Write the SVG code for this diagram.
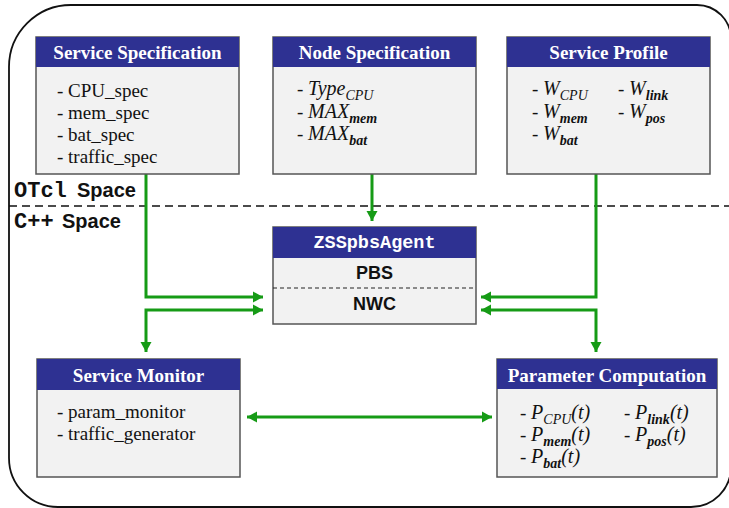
<svg xmlns="http://www.w3.org/2000/svg" width="729" height="508" viewBox="0 0 729 508">
<style>
.hdr{fill:#2e3192;}
.body{fill:#f2f2f2;stroke:#555;stroke-width:1.5;}
.ttl{font-family:"Liberation Serif",serif;font-weight:bold;font-size:19px;fill:#fff;text-anchor:middle;}
.it{font-family:"Liberation Serif",serif;font-size:19px;fill:#111;}
.i{font-style:italic;font-size:20px;}
.sub{font-style:italic;font-size:14px;}
.sb{font-style:italic;font-weight:bold;font-size:14px;}
.conn{fill:none;stroke:#169b16;stroke-width:3;}
</style>
<defs>
<marker id="ah" markerUnits="userSpaceOnUse" markerWidth="12" markerHeight="12" refX="10" refY="5.5" orient="auto-start-reverse" viewBox="0 0 12 11">
<path d="M0,0 L10,5.5 L0,11 z" fill="#169b16"/>
</marker>
</defs>
<rect width="729" height="508" fill="#fff"/>
<path d="M9,67 A62,62 0 0 1 71,5 L697,5 A34,34 0 0 1 731,39 L731,467 A40,40 0 0 1 691,507 L58,507 A49,49 0 0 1 9,458 Z" fill="none" stroke="#111" stroke-width="1.8"/>
<line x1="9" y1="206" x2="729" y2="206" stroke="#111" stroke-width="1.5" stroke-dasharray="8,5"/>
<text x="14" y="197" font-family="'Liberation Mono', monospace" font-size="22" font-weight="bold" fill="#111">OTcl</text>
<text x="77" y="197" font-family="'Liberation Sans', Arial, sans-serif" font-size="20" font-weight="bold" fill="#111">Space</text>
<text x="14" y="228" font-family="'Liberation Mono', monospace" font-size="22" font-weight="bold" fill="#111">C++</text>
<text x="62" y="228" font-family="'Liberation Sans', Arial, sans-serif" font-size="20" font-weight="bold" fill="#111">Space</text>

<g id="connectors">
<path class="conn" d="M146,174 V297 H263" marker-end="url(#ah)"/>
<path class="conn" d="M263,310 H146 V352" marker-start="url(#ah)" marker-end="url(#ah)"/>
<path class="conn" d="M372,174 V221" marker-end="url(#ah)"/>
<path class="conn" d="M596,174 V297 H481" marker-end="url(#ah)"/>
<path class="conn" d="M481,310 H596 V352" marker-start="url(#ah)" marker-end="url(#ah)"/>
<path class="conn" d="M247,417 H492" marker-start="url(#ah)" marker-end="url(#ah)"/>
</g>

<g id="service-specification">
<rect class="body" x="36" y="37" width="203" height="137"/>
<rect class="hdr" x="36" y="37" width="203" height="30"/>
<text class="ttl" x="137.5" y="59">Service Specification</text>
<text class="it" x="57" y="96.5">- CPU_spec</text>
<text class="it" x="57" y="119">- mem_spec</text>
<text class="it" x="57" y="141">- bat_spec</text>
<text class="it" x="57" y="163">- traffic_spec</text>
</g>

<g id="node-specification">
<rect class="body" x="273" y="37" width="203" height="137"/>
<rect class="hdr" x="273" y="37" width="203" height="30"/>
<text class="ttl" x="374.5" y="59">Node Specification</text>
<text class="it" x="297" y="95">- <tspan class="i">Type</tspan><tspan class="sub" dy="5">CPU</tspan></text>
<text class="it" x="297" y="118">- <tspan class="i">MAX</tspan><tspan class="sb" dy="5">mem</tspan></text>
<text class="it" x="297" y="140">- <tspan class="i">MAX</tspan><tspan class="sb" dy="5">bat</tspan></text>
</g>

<g id="service-profile">
<rect class="body" x="507" y="37" width="203" height="137"/>
<rect class="hdr" x="507" y="37" width="203" height="30"/>
<text class="ttl" x="608.5" y="59">Service Profile</text>
<text class="it" x="532" y="95">- <tspan class="i">W</tspan><tspan class="sub" dy="5">CPU</tspan></text>
<text class="it" x="532" y="118">- <tspan class="i">W</tspan><tspan class="sb" dy="5">mem</tspan></text>
<text class="it" x="532" y="140">- <tspan class="i">W</tspan><tspan class="sb" dy="5">bat</tspan></text>
<text class="it" x="618" y="95">- <tspan class="i">W</tspan><tspan class="sb" dy="5">link</tspan></text>
<text class="it" x="618" y="118">- <tspan class="i">W</tspan><tspan class="sb" dy="5">pos</tspan></text>
</g>

<g id="zsspbsagent">
<rect class="body" x="273" y="227" width="203" height="97"/>
<rect class="hdr" x="273" y="227" width="203" height="31"/>
<text x="374.5" y="248" font-family="'Liberation Mono',monospace" font-weight="bold" font-size="18.5" fill="#fff" text-anchor="middle">ZSSpbsAgent</text>
<text x="374.5" y="279" font-family="'Liberation Sans',sans-serif" font-weight="bold" font-size="18" fill="#111" text-anchor="middle">PBS</text>
<line x1="273" y1="288" x2="476" y2="288" stroke="#222" stroke-width="1" stroke-dasharray="4,3"/>
<text x="374.5" y="310" font-family="'Liberation Sans',sans-serif" font-weight="bold" font-size="18" fill="#111" text-anchor="middle">NWC</text>
</g>

<g id="service-monitor">
<rect class="body" x="37" y="359" width="203" height="118"/>
<rect class="hdr" x="37" y="359" width="203" height="31"/>
<text class="ttl" x="138.5" y="382">Service Monitor</text>
<text class="it" x="57" y="418">- param_monitor</text>
<text class="it" x="57" y="440">- traffic_generator</text>
</g>

<g id="parameter-computation">
<rect class="body" x="497" y="359" width="220" height="118"/>
<rect class="hdr" x="497" y="359" width="220" height="30"/>
<text class="ttl" x="607" y="382">Parameter Computation</text>
<text class="it" x="520" y="419">- <tspan class="i">P</tspan><tspan class="sub" dy="5">CPU</tspan><tspan class="i" dy="-5">(t)</tspan></text>
<text class="it" x="520" y="441">- <tspan class="i">P</tspan><tspan class="sb" dy="5">mem</tspan><tspan class="i" dy="-5">(t)</tspan></text>
<text class="it" x="520" y="463">- <tspan class="i">P</tspan><tspan class="sb" dy="5">bat</tspan><tspan class="i" dy="-5">(t)</tspan></text>
<text class="it" x="624" y="419">- <tspan class="i">P</tspan><tspan class="sb" dy="5">link</tspan><tspan class="i" dy="-5">(t)</tspan></text>
<text class="it" x="624" y="441">- <tspan class="i">P</tspan><tspan class="sb" dy="5">pos</tspan><tspan class="i" dy="-5">(t)</tspan></text>
</g>
</svg>
